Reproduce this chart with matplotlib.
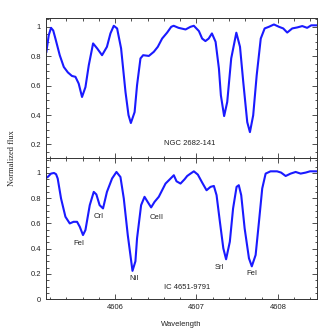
import numpy as np
import matplotlib
matplotlib.use('Agg')
import matplotlib.pyplot as plt
from matplotlib.ticker import MultipleLocator, FormatStrFormatter

# NGC 2682-141 spectrum
wl_top = [4605.156, 4605.185, 4605.213, 4605.24, 4605.267, 4605.32, 4605.37, 4605.42,
          4605.47, 4605.513, 4605.553, 4605.594, 4605.636, 4605.677, 4605.73, 4605.78,
          4605.84, 4605.90, 4605.943, 4605.984, 4606.025, 4606.074, 4606.128, 4606.165,
          4606.194, 4606.24, 4606.27, 4606.312, 4606.345, 4606.415, 4606.476, 4606.525,
          4606.578, 4606.64, 4606.69, 4606.72, 4606.78, 4606.866, 4606.927, 4606.968,
          4607.03, 4607.07, 4607.11, 4607.15, 4607.19, 4607.235, 4607.276, 4607.30,
          4607.34, 4607.378, 4607.427, 4607.49, 4607.535, 4607.575, 4607.624, 4607.657,
          4607.697, 4607.74, 4607.79, 4607.838, 4607.89, 4607.952, 4608.014, 4608.066,
          4608.115, 4608.177, 4608.24, 4608.30, 4608.36, 4608.41, 4608.48]
flux_top = [0.83, 0.943, 0.993, 0.975, 0.92, 0.807, 0.727, 0.69,
            0.666, 0.66, 0.614, 0.523, 0.59, 0.739, 0.887, 0.853,
            0.807, 0.864, 0.955, 1.007, 0.989, 0.853, 0.557, 0.40,
            0.346, 0.42, 0.603, 0.785, 0.807, 0.802, 0.83, 0.864,
            0.92, 0.961, 1.0, 1.007, 0.993, 0.982, 1.0, 1.007,
            0.971, 0.92, 0.903, 0.92, 0.955, 0.898, 0.716, 0.534,
            0.393, 0.489, 0.785, 0.96, 0.864, 0.625, 0.352, 0.284,
            0.398, 0.67, 0.92, 0.989, 1.0, 1.016, 1.0, 0.989,
            0.961, 0.989, 0.996, 1.005, 0.993, 1.01, 1.01]

# IC 4651-9791 spectrum
wl_bot = [4605.15, 4605.172, 4605.213, 4605.25, 4605.275, 4605.295, 4605.336, 4605.39,
          4605.443, 4605.49, 4605.533, 4605.566, 4605.606, 4605.636, 4605.689, 4605.738,
          4605.77, 4605.81, 4605.852, 4605.90, 4605.963, 4606.017, 4606.066, 4606.107,
          4606.156, 4606.214, 4606.25, 4606.27, 4606.32, 4606.362, 4606.40, 4606.443,
          4606.485, 4606.537, 4606.578, 4606.62, 4606.673, 4606.722, 4606.755, 4606.804,
          4606.854, 4606.886, 4606.927, 4606.968, 4607.017, 4607.07, 4607.124, 4607.173,
          4607.214, 4607.247, 4607.288, 4607.33, 4607.364, 4607.41, 4607.45, 4607.493,
          4607.52, 4607.55, 4607.592, 4607.645, 4607.68, 4607.727, 4607.768, 4607.808,
          4607.85, 4607.91, 4607.99, 4608.04, 4608.096, 4608.157, 4608.219, 4608.28,
          4608.342, 4608.395, 4608.48]
flux_bot = [0.96, 0.968, 0.995, 1.0, 0.99, 0.956, 0.798, 0.653,
            0.60, 0.613, 0.613, 0.574, 0.508, 0.548, 0.745, 0.85,
            0.83, 0.745, 0.719, 0.85, 0.956, 1.008, 0.968, 0.798,
            0.508, 0.224, 0.30, 0.482, 0.745, 0.811, 0.771, 0.727,
            0.771, 0.811, 0.863, 0.916, 0.95, 0.982, 0.934, 0.916,
            0.95, 0.976, 0.995, 1.013, 0.987, 0.924, 0.863, 0.89,
            0.897, 0.824, 0.613, 0.403, 0.316, 0.455, 0.719, 0.89,
            0.903, 0.824, 0.561, 0.324, 0.26, 0.35, 0.613, 0.877,
            0.995, 1.013, 1.013, 1.003, 0.976, 0.995, 1.008, 0.995,
            1.003, 1.013, 1.013]

# line identifications
line_names = ['FeI', 'CrI', 'NiI', 'CeII', 'SrI', 'FeI']
line_x = [4605.56, 4605.80, 4606.23, 4606.51, 4607.28, 4607.68]
line_y = [0.443, 0.653, 0.167, 0.648, 0.253, 0.206]

star_top = 'NGC 2682-141'
star_bot = 'IC 4651-9791'

font = 'Liberation Sans'
fs = 5.5

fig = plt.figure(figsize=(3.35, 3.35), dpi=100)
ax1 = fig.add_axes([0.137, 0.527, 0.809, 0.418])
ax2 = fig.add_axes([0.137, 0.107, 0.809, 0.420])

ax1.plot(wl_top, flux_top, color='#1a1aff', lw=1.5, solid_joinstyle='round')
ax2.plot(wl_bot, flux_bot, color='#1a1aff', lw=1.5, solid_joinstyle='round')

ax1.set_ylim(0.105, 1.057)
ax2.set_ylim(0, 1.115)

for ax in [ax1, ax2]:
    ax.set_xlim(4605.15, 4608.48)
    ax.xaxis.set_major_locator(MultipleLocator(1))
    ax.xaxis.set_minor_locator(MultipleLocator(0.2))
    ax.yaxis.set_major_locator(MultipleLocator(0.2))
    ax.yaxis.set_minor_locator(MultipleLocator(0.05))
    ax.yaxis.set_major_formatter(FormatStrFormatter('%g'))
    ax.tick_params(which='both', direction='in', top=True, right=True,
                   width=0.6, colors='#333333', labelsize=fs)
    ax.tick_params(which='major', length=3.6)
    ax.tick_params(which='minor', length=1.8)
    for s in ax.spines.values():
        s.set_linewidth(0.7)
        s.set_color('#333333')
    for lab in ax.get_xticklabels() + ax.get_yticklabels():
        lab.set_fontfamily(font)
        lab.set_color('#222222')

ax1.set_yticks([0.2, 0.4, 0.6, 0.8, 1.0])
ax1.tick_params(labelbottom=False)
ax2.xaxis.set_major_formatter(FormatStrFormatter('%d'))
for lab in ax2.get_xticklabels() + ax1.get_yticklabels() + ax2.get_yticklabels():
    lab.set_fontfamily(font)

ax1.text(4606.92, 0.21, star_top, fontsize=fs, family=font, ha='center', va='center', color='#222222')
ax2.text(4606.88, 0.095, star_bot, fontsize=fs, family=font, ha='center', va='center', color='#222222')

for name, x, y in zip(line_names, line_x, line_y):
    ax2.text(x, y, name, fontsize=fs, family=font, ha='center', va='center', color='#222222')

ax2.set_xlabel('Wavelength', fontsize=fs, family=font, color='#222222', labelpad=7)
fig.text(0.035, 0.527, 'Normalized flux', rotation=90, fontsize=6, family='Liberation Serif',
         ha='center', va='center', color='#222222')

plt.savefig('out.png', dpi=100)
